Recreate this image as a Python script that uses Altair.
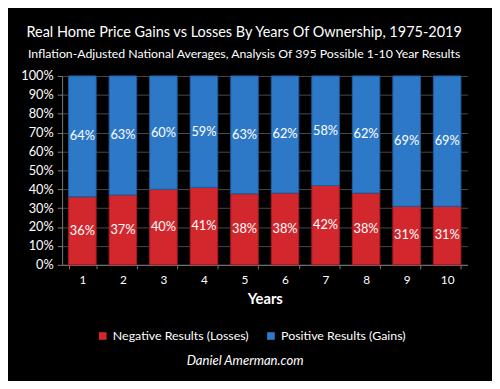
import altair as alt
import pandas as pd

years = [1, 2, 3, 4, 5, 6, 7, 8, 9, 10]
negative = [36, 37, 40, 41, 38, 38, 42, 38, 31, 31]
positive = [64, 63, 60, 59, 63, 62, 58, 62, 69, 69]
series_names = ["Negative Results (Losses)", "Positive Results (Gains)"]
colors = ["#d3272e", "#2e79c7"]
y_ticks = [0, 0.1, 0.2, 0.3, 0.4, 0.5, 0.6, 0.7, 0.8, 0.9, 1.0]
title_text = "Real Home Price Gains vs Losses By Years Of Ownership, 1975-2019"
subtitle_text = "Inflation-Adjusted National Averages, Analysis Of 395 Possible 1-10 Year Results"
footer_text = "Daniel Amerman.com"

rows = []
for y, n, p in zip(years, negative, positive):
    rows.append({"year": y, "series": series_names[0], "value": n, "ord": 0})
    rows.append({"year": y, "series": series_names[1], "value": p, "ord": 1})
df = pd.DataFrame(rows)

FONT = "Lato"

base = alt.Chart(df).transform_stack(
    stack="value", groupby=["year"], as_=["y0", "y1"], offset="normalize",
    sort=[alt.SortField("ord", order="ascending")]
).transform_calculate(
    mid="(datum.y0 + datum.y1) / 2",
    label="datum.value + '%'"
)

x_axis = alt.Axis(labelAngle=0, labelColor="white", labelFontSize=12,
                  labelFont=FONT, titleColor="white", titleFont=FONT,
                  titleFontSize=15, titleFontWeight="bold", titlePadding=6,
                  domainColor="#7a7a7a", tickColor="#7a7a7a", tickBand="extent",
                  tickSize=4, labelPadding=6)
x_scale = alt.Scale(paddingInner=0.32, paddingOuter=0.16)
y_axis = alt.Axis(values=y_ticks, format=".0%", labelOverlap=False,
                  labelColor="white", labelFontSize=13, labelFont=FONT,
                  grid=True, gridColor="#4a4a4a", domainColor="#7a7a7a",
                  tickColor="#7a7a7a", tickSize=5, labelPadding=4)
y_scale = alt.Scale(domain=[0, 1])

bars = base.mark_bar(strokeWidth=1).encode(
    x=alt.X("year:O", title="Years", scale=x_scale, axis=x_axis),
    y=alt.Y("y0:Q", scale=y_scale, title=None, axis=y_axis),
    y2="y1:Q",
    color=alt.Color("series:N", scale=alt.Scale(domain=series_names, range=colors),
                    legend=alt.Legend(title=None, orient="none", direction="horizontal",
                                      legendX=35, legendY=258, symbolType="square",
                                      symbolSize=60, symbolStrokeWidth=0, padding=0,
                                      labelColor="white", labelFontSize=12.6,
                                      labelFont=FONT, columnPadding=16)),
    stroke=alt.Stroke("series:N", scale=alt.Scale(domain=series_names,
                                                  range=["#a81a20", "#1d5c9e"]),
                      legend=None),
)

labels = base.mark_text(color="white", fontSize=13, font=FONT, baseline="middle").encode(
    x=alt.X("year:O", title="Years", scale=x_scale, axis=x_axis),
    y=alt.Y("mid:Q", scale=y_scale, title=None, axis=y_axis),
    text="label:N",
)

title_mark = alt.Chart(pd.DataFrame({"t": [title_text]})).mark_text(
    color="white", fontSize=14.7, font=FONT, baseline="middle"
).encode(x=alt.value(185), y=alt.value(-44), text="t:N")

subtitle_mark = alt.Chart(pd.DataFrame({"t": [subtitle_text]})).mark_text(
    color="white", fontSize=12.5, font=FONT, baseline="middle"
).encode(x=alt.value(185), y=alt.value(-22), text="t:N")

footer = alt.Chart(pd.DataFrame({"t": [footer_text]})).mark_text(
    color="white", fontSize=13.3, font=FONT, fontStyle="italic", baseline="middle"
).encode(x=alt.value(186), y=alt.value(290), text="t:N")

chart = alt.layer(bars, labels, title_mark, subtitle_mark, footer).properties(
    width=412, height=192,
    autosize=alt.AutoSizeParams(type="none"),
    padding={"left": 55, "top": 66, "right": 25, "bottom": 115},
    background="black",
).configure_view(stroke=None)

chart.save("out.html", embed_options={"renderer": "svg", "actions": False})
